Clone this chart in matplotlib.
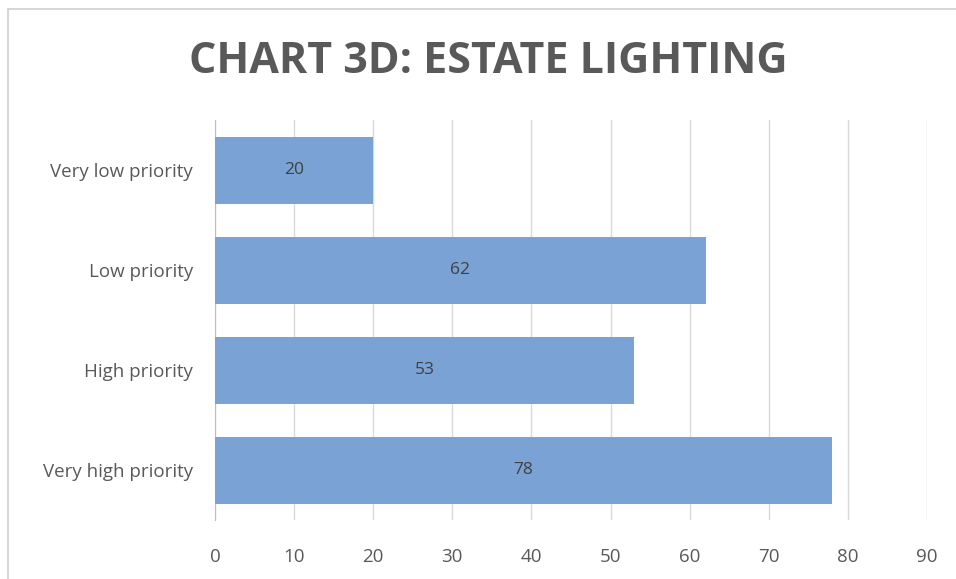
import matplotlib
matplotlib.use("Agg")
import matplotlib.pyplot as plt
from matplotlib.patches import Rectangle

categories = ["Very low priority", "Low priority", "High priority", "Very high priority"]
values = [20, 62, 53, 78]
xticks = [0, 10, 20, 30, 40, 50, 60, 70, 80, 90]

fig = plt.figure(figsize=(9.56, 5.79), dpi=100)
fig.patch.set_facecolor("white")
fig.patches.append(Rectangle((0.008, -0.01), 1.0, 0.995, transform=fig.transFigure,
                             fill=False, edgecolor="#d0d0d0", linewidth=1.2))

ax = fig.add_axes([0.2249, 0.1019, 0.9697 - 0.2249, 0.7927 - 0.1019])
ypos = list(range(len(categories)))
bars = ax.barh(ypos, values, height=0.67, color="#7BA2D4", zorder=3)
ax.set_ylim(3.5, -0.5)
ax.set_xlim(0, 90)
ax.set_xticks(xticks)
ax.set_xticklabels([str(t) for t in xticks])
ax.set_yticks(ypos)
ax.set_yticklabels(categories)

for b, v in zip(bars, values):
    ax.text(v / 2, b.get_y() + b.get_height() / 2, str(v), ha="center", va="center",
            fontsize=12.5, color="#404040", family="Open Sans", zorder=4)

ax.grid(axis="x", color="#d9d9d9", linewidth=1, zorder=0)
for s in ["top", "right", "bottom"]:
    ax.spines[s].set_visible(False)
ax.spines["left"].set_color("#bfbfbf")
ax.tick_params(axis="both", length=0, labelcolor="#595959", labelsize=13.5)
ax.tick_params(axis="x", pad=20)
ax.tick_params(axis="y", pad=16)
for lbl in ax.get_xticklabels() + ax.get_yticklabels():
    lbl.set_family("Open Sans")

fig.text(0.511, 0.893, "CHART 3D: ESTATE LIGHTING", ha="center", va="center",
         fontsize=31, fontweight="bold", color="#595959", family="Open Sans")

fig.savefig("out.png", dpi=100)
